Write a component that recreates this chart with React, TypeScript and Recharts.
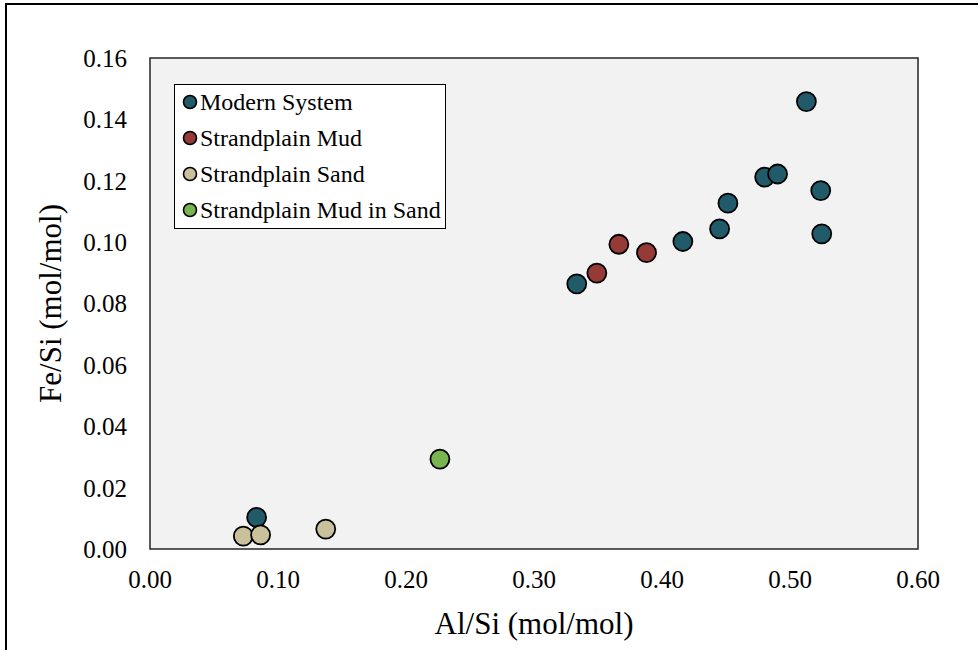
import React from 'react';
import {
  ScatterChart,
  Scatter,
  XAxis,
  YAxis,
  ReferenceArea,
  Legend,
} from 'recharts';

// Al/Si vs Fe/Si
const modernAl = [0.0833, 0.3334, 0.4163, 0.445, 0.4515, 0.4802, 0.4903, 0.5128, 0.524, 0.5248];
const modernFe = [0.0103, 0.0864, 0.1002, 0.1043, 0.1127, 0.1212, 0.1222, 0.1458, 0.1168, 0.1027];

const mudAl = [0.3491, 0.3663, 0.3879];
const mudFe = [0.0899, 0.0993, 0.0966];

const sandAl = [0.0729, 0.0864, 0.1373];
const sandFe = [0.0042, 0.0046, 0.0065];

const mudInSandAl = [0.2265];
const mudInSandFe = [0.0293];

const xTicks = [0, 0.1, 0.2, 0.3, 0.4, 0.5, 0.6];
const yTicks = [0, 0.02, 0.04, 0.06, 0.08, 0.1, 0.12, 0.14, 0.16];

const toPoints = (xs: number[], ys: number[]) => xs.map((x, i) => ({ x, y: ys[i] }));

const series = [
  { name: 'Modern System', color: '#215a69', data: toPoints(modernAl, modernFe) },
  { name: 'Strandplain Mud', color: '#953a37', data: toPoints(mudAl, mudFe) },
  { name: 'Strandplain Sand', color: '#c8c19b', data: toPoints(sandAl, sandFe) },
  { name: 'Strandplain Mud in Sand', color: '#78b44f', data: toPoints(mudInSandAl, mudInSandFe) },
];
const seriesOrder = series.map((s) => s.name);

const FONT = '"Liberation Serif", "Times New Roman", serif';

const Dot = (props: any) => {
  const { cx, cy, fill } = props;
  return <circle cx={cx} cy={cy} r={9.5} fill={fill} stroke="#000" strokeWidth={1.8} />;
};

const LegendBox = ({ payload }: any) => {
  // keep the series order (recharts sorts the payload by name)
  const items = [...(payload || [])].sort(
    (a: any, b: any) => seriesOrder.indexOf(a.value) - seriesOrder.indexOf(b.value)
  );
  return (
    <div
      style={{
        boxSizing: 'border-box',
        width: 272,
        height: 145,
        border: '1.5px solid #000',
        background: '#fff',
        fontFamily: FONT,
        fontSize: 24,
        color: '#000',
      }}
    >
      <div style={{ position: 'relative', top: -1 }}>
        {items.map((entry: any) => (
          <div key={entry.value} style={{ display: 'flex', alignItems: 'center', height: 36, lineHeight: 1 }}>
            <svg width={16} height={16} style={{ marginLeft: 7, flex: 'none' }}>
              <circle cx={8} cy={8} r={6.5} fill={entry.color} stroke="#000" strokeWidth={1.6} />
            </svg>
            <span style={{ marginLeft: 2, whiteSpace: 'nowrap' }}>{entry.value}</span>
          </div>
        ))}
      </div>
    </div>
  );
};

export default function App() {
  return (
    <div
      style={{
        position: 'absolute',
        left: 0,
        top: 0,
        width: 978,
        height: 650,
        overflow: 'hidden',
        background: '#fff',
      }}
    >
      {/* outer figure frame, right and bottom edges run off the picture */}
      <div
        style={{
          position: 'absolute',
          left: 5,
          top: 3,
          width: 1000,
          height: 700,
          border: '2px solid #000',
        }}
      />
      <ScatterChart
        width={978}
        height={650}
        margin={{ top: 58, right: 60, bottom: 0, left: 20 }}
        style={{ position: 'absolute', left: 0, top: 0, fontFamily: FONT }}
      >
        <ReferenceArea
          x1={0}
          x2={0.6}
          y1={0}
          y2={0.16}
          fill="#f2f2f2"
          fillOpacity={1}
          stroke="#262626"
          strokeWidth={1.5}
        />
        <XAxis
          type="number"
          dataKey="x"
          domain={[0, 0.6]}
          ticks={xTicks}
          tickFormatter={(v: number) => v.toFixed(2)}
          axisLine={false}
          tickLine={false}
          tickSize={0}
          tickMargin={21}
          height={101}
          tick={{ fill: '#000', fontSize: 25, fontFamily: FONT }}
          label={{
            value: 'Al/Si (mol/mol)',
            position: 'insideBottom',
            offset: 16,
            fill: '#000',
            fontSize: 31,
            fontFamily: FONT,
          }}
        />
        <YAxis
          type="number"
          dataKey="y"
          domain={[0, 0.16]}
          ticks={yTicks}
          tickFormatter={(v: number) => v.toFixed(2)}
          axisLine={false}
          tickLine={false}
          tickSize={0}
          tickMargin={23}
          width={130}
          tick={{ fill: '#000', fontSize: 25, fontFamily: FONT }}
          label={{
            value: 'Fe/Si (mol/mol)',
            angle: -90,
            position: 'insideLeft',
            offset: 30,
            fill: '#000',
            fontSize: 31,
            fontFamily: FONT,
            style: { textAnchor: 'middle' },
          }}
        />
        <Legend
          layout="vertical"
          align="center"
          verticalAlign="middle"
          wrapperStyle={{ left: 174, top: 84, width: 272, height: 145 }}
          content={<LegendBox />}
        />
        {series.map((s) => (
          <Scatter
            key={s.name}
            name={s.name}
            data={s.data}
            fill={s.color}
            shape={<Dot />}
            legendType="circle"
            isAnimationActive={false}
          />
        ))}
      </ScatterChart>
    </div>
  );
}
